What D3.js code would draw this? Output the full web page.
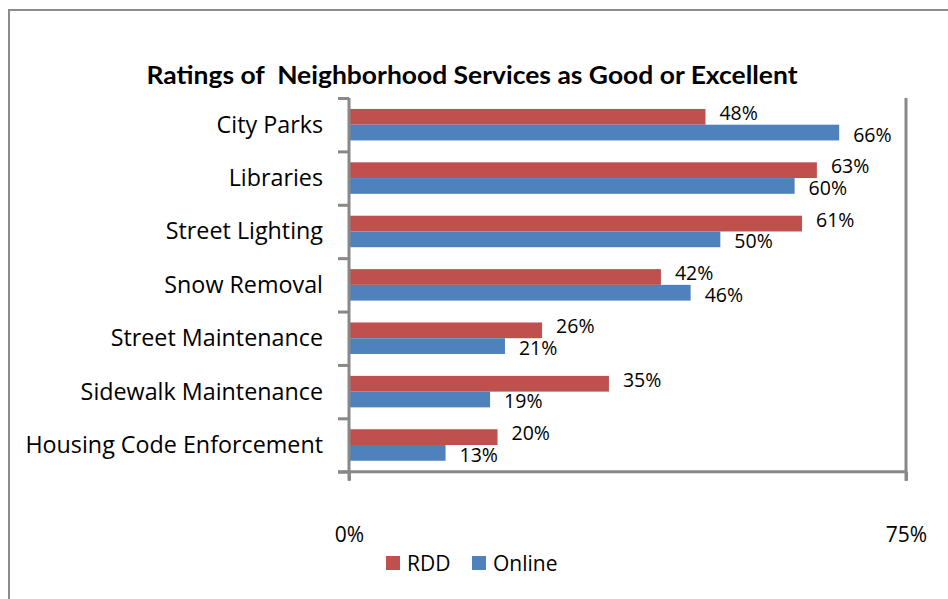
<!DOCTYPE html>
<html>
<head>
<meta charset="utf-8">
<script src="https://cdn.jsdelivr.net/npm/d3@7"></script>
<style>
  html, body { margin: 0; padding: 0; background: #fff; }
  svg { display: block; }
  text { font-family: "Open Sans", Lato, sans-serif; fill: #000; }
</style>
</head>
<body>
<svg id="chart" width="948" height="599"></svg>
<script>
// Survey results: share rating each service as good or excellent
const categories = [
  "City Parks",
  "Libraries",
  "Street Lighting",
  "Snow Removal",
  "Street Maintenance",
  "Sidewalk Maintenance",
  "Housing Code Enforcement"
];
const rddValues    = [48, 63, 61, 42, 26, 35, 20];
const onlineValues = [66, 60, 50, 46, 21, 19, 13];
const seriesNames  = ["RDD", "Online"];
const seriesColors = ["#C0504D", "#4F81BD"];
const xTickValues  = [0, 75];
const titleText    = "Ratings of  Neighborhood Services as Good or Excellent";

const svg = d3.select("#chart");
const axisColor = "#888888";

// plot frame
const plotLeft = 349, plotRight = 906, plotTop = 98, plotBottom = 471.7;

const x = d3.scaleLinear().domain([0, 75]).range([plotLeft, plotRight]);
const y = d3.scaleBand().domain(categories).range([plotTop, plotBottom])
  .paddingInner(0.41).paddingOuter(0.205);
const ySeries = d3.scaleBand().domain(seriesNames).range([0, y.bandwidth()]);
const color = d3.scaleOrdinal().domain(seriesNames).range(seriesColors);

// outer chart border (left and top edges)
svg.append("path")
  .attr("d", `M9,${599 + 5}V10H${948 + 5}`)
  .attr("fill", "none")
  .attr("stroke", "#8c8c8c")
  .attr("stroke-width", 2);

// title
svg.append("text")
  .attr("x", 472)
  .attr("y", 84)
  .attr("text-anchor", "middle")
  .attr("textLength", 651)
  .attr("lengthAdjust", "spacingAndGlyphs")
  .style("white-space", "pre")
  .style("font-family", "Lato, sans-serif")
  .style("font-weight", "bold")
  .style("font-size", "24px")
  .text(titleText);

// bars
const rows = categories.map((c, i) => ({
  category: c,
  values: [
    { series: "RDD", value: rddValues[i] },
    { series: "Online", value: onlineValues[i] }
  ]
}));

const groups = svg.append("g").selectAll("g")
  .data(rows)
  .join("g")
  .attr("transform", d => `translate(0,${y(d.category)})`);

groups.selectAll("rect")
  .data(d => d.values)
  .join("rect")
  .attr("x", x(0))
  .attr("y", d => ySeries(d.series))
  .attr("width", d => x(d.value) - x(0))
  .attr("height", ySeries.bandwidth())
  .attr("fill", d => color(d.series));

// data labels: RDD sits slightly high, Online slightly low
const labelShift = { RDD: 3, Online: 9 };
groups.selectAll("text.val")
  .data(d => d.values)
  .join("text")
  .attr("class", "val")
  .attr("x", d => x(d.value) + 14)
  .attr("y", d => ySeries(d.series) + ySeries.bandwidth() / 2 + labelShift[d.series])
  .style("font-size", "19.5px")
  .text(d => d.value + "%");

// right-hand frame line
svg.append("line")
  .attr("x1", plotRight).attr("x2", plotRight)
  .attr("y1", plotTop).attr("y2", plotBottom + 9)
  .attr("stroke", axisColor).attr("stroke-width", 3);

// category axis: ticks at band boundaries
const yEdge = d3.scaleLinear().domain([0, categories.length]).range([plotTop, plotBottom]);
const yAxis = svg.append("g")
  .attr("transform", `translate(${plotLeft},0)`)
  .call(d3.axisLeft(yEdge)
    .tickValues(d3.range(categories.length + 1))
    .tickFormat("")
    .tickSize(11)
    .tickSizeOuter(0));
yAxis.select(".domain").attr("stroke", axisColor).attr("stroke-width", 3)
  .attr("d", `M0,${plotTop}V${plotBottom + 9}`);
yAxis.selectAll(".tick line").attr("stroke", axisColor).attr("stroke-width", 3);

// category labels
svg.append("g").selectAll("text")
  .data(categories)
  .join("text")
  .attr("x", 323)
  .attr("y", d => y(d) + y.bandwidth() / 2 + 8)
  .attr("text-anchor", "end")
  .style("font-size", "23.3px")
  .text(d => d);

// value axis
const xAxis = svg.append("g")
  .attr("transform", `translate(0,${plotBottom})`)
  .call(d3.axisBottom(x)
    .tickValues(xTickValues)
    .tickFormat(d => d + "%")
    .tickSize(9)
    .tickSizeOuter(0)
    .tickPadding(46));
xAxis.select(".domain").attr("stroke", axisColor).attr("stroke-width", 3)
  .attr("d", `M${plotLeft - 11},0H${plotRight}`);
xAxis.selectAll(".tick line").attr("stroke", axisColor).attr("stroke-width", 3);
xAxis.selectAll(".tick text")
  .style("font-size", "21px")
  .style("font-family", "'Open Sans', sans-serif")
  .attr("fill", "#000");

// legend
const legend = svg.append("g").attr("transform", "translate(386,556)");
const legendItems = legend.selectAll("g")
  .data(seriesNames)
  .join("g")
  .attr("transform", (d, i) => `translate(${i * 86},0)`);
legendItems.append("rect")
  .attr("width", 14).attr("height", 14)
  .attr("fill", d => color(d));
legendItems.append("text")
  .attr("x", 21)
  .attr("y", 15)
  .style("font-size", "21px")
  .text(d => d);
</script>
</body>
</html>
